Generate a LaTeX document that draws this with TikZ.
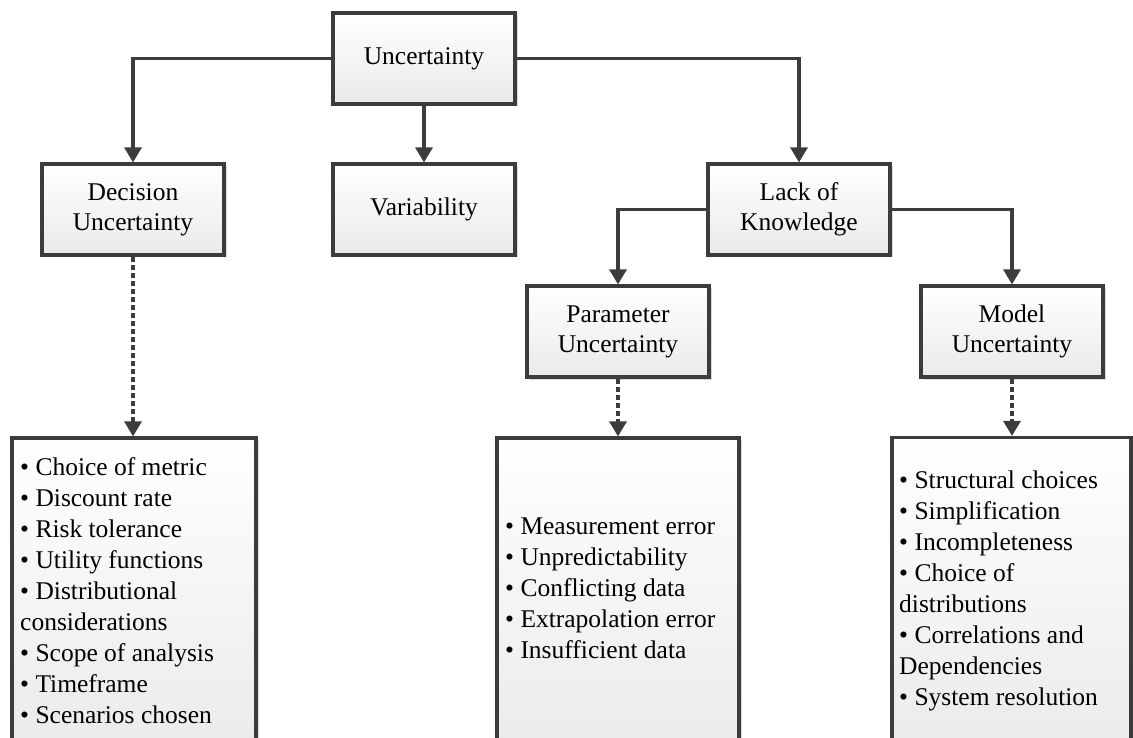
\documentclass[tikz,border=0pt]{standalone}
\usepackage{fontspec}
\setmainfont{Liberation Serif}
\usetikzlibrary{arrows.meta,shadows}
\definecolor{edge}{HTML}{3C3C3C}
\definecolor{boxbot}{HTML}{EAEAEA}
\tikzset{
 boxstyle/.style={draw=edge, line width=3.2pt, top color=white, bottom color=boxbot,
   drop shadow={shadow xshift=2.5pt, shadow yshift=-2.5pt, fill=black, opacity=0.15},
   inner sep=0pt, align=center, font=\fontsize{25.5}{30}\selectfont},
 hdr/.style={boxstyle, minimum width=182pt, minimum height=91pt},
 listbox/.style={boxstyle, minimum height=322pt},
 listtxt/.style={inner sep=0pt, align=left, anchor=north west, font=\fontsize{25.5}{31}\selectfont},
 conn/.style={draw=edge, line width=3.2pt, -{Triangle[length=15pt,width=17pt]}},
 dconn/.style={conn, dash pattern=on 5pt off 3pt},
}
\begin{document}
\begin{tikzpicture}[x=1pt,y=-1pt]
\useasboundingbox (0,0) rectangle (1133,738);
\clip (0,0) rectangle (1133,738);
\node[hdr] (unc) at (424,58.5) {Uncertainty};
\node[hdr] (dec) at (133,209.5) {Decision\\Uncertainty};
\node[hdr] (var) at (424,209.5) {Variability};
\node[hdr] (lack) at (799,209.5) {Lack of\\Knowledge};
\node[hdr] (par) at (618,331.5) {Parameter\\Uncertainty};
\node[hdr] (mod) at (1012,331.5) {Model\\Uncertainty};
\node[listbox, minimum width=244pt] (l1) at (134,599) {};
\node[listbox, minimum width=242pt] (l2) at (618,599) {};
\node[listbox, minimum width=239pt] (l3) at (1011.5,598.5) {};
\node[listtxt] (t1) at (20,457.6) {• Choice of metric\\• Discount rate\\• Risk tolerance\\• Utility functions\\• Distributional\\considerations\\• Scope of analysis\\• Timeframe\\• Scenarios chosen};
\node[listtxt] (t2) at (505,518) {• Measurement error\\• Unpredictability\\• Conflicting data\\• Extrapolation error\\• Insufficient data};
\node[listtxt] (t3) at (899,470.6) {• Structural choices\\• Simplification\\• Incompleteness\\• Choice of\\distributions\\• Correlations and\\Dependencies\\• System resolution};
\draw[conn] (unc.west) -| (dec.north);
\draw[conn] (unc.east) -| (lack.north);
\draw[conn] (unc.south) -- (var.north);
\draw[conn] (lack.west) -| (par.north);
\draw[conn] (lack.east) -| (mod.north);
\draw[dconn] (dec.south) -- (l1.north -| dec.south);
\draw[dconn] (par.south) -- (l2.north -| par.south);
\draw[dconn] (mod.south) -- (l3.north -| mod.south);
\end{tikzpicture}
\end{document}
